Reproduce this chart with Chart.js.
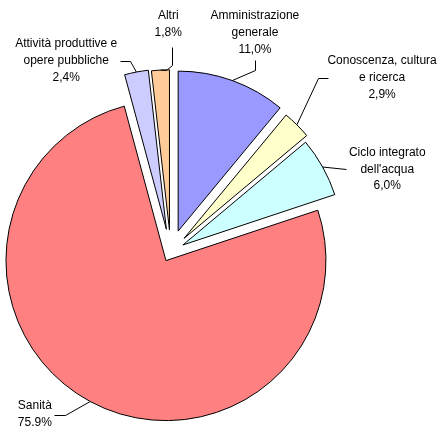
<!DOCTYPE html>
<html>
<head>
<meta charset="utf-8">
<script src="https://cdn.jsdelivr.net/npm/chart.js@4/dist/chart.umd.min.js"></script>
<style>
html,body{margin:0;padding:0;background:#fff;overflow:hidden;}
canvas{display:block;}
</style>
</head>
<body>
<canvas id="c" width="447" height="429"></canvas>
<script>
// ---- data ----
const categories = ['Amministrazione generale', 'Conoscenza, cultura e ricerca', "Ciclo integrato dell'acqua", 'Sanità', 'Attività produttive e opere pubbliche', 'Altri'];
const shares = [11.0, 2.9, 6.0, 75.9, 2.4, 1.8];
const nameLines = [['Amministrazione', 'generale'], ['Conoscenza, cultura', 'e ricerca'], ['Ciclo integrato', "dell'acqua"], ['Sanità'], ['Attività produttive e', 'opere pubbliche'], ['Altri']];
const valueTexts = ['11,0%', '2,9%', '6,0%', '75.9%', '2,4%', '1,8%'];

// ---- style ----
const colors = ['#9999FF', '#FFFFCC', '#CCFFFF', '#FF8080', '#CCCCFF', '#FFCC99'];
const explode = [22, 19, 14, 10, 23, 22];
// label placement relative to the slice's outer mid-point: leader polyline + text block centre
const labelStyle = [
  { leader: [[22.6, -10.5], [22.6, -20.5]], text: [22.6, -48] },
  { leader: [[21.5, -47.1], [30.9, -47.1]], text: [85.2, -47.1] },
  { leader: [[23.6, 2]], text: [64.6, 2.2] },
  { leader: [[-25.4, 13.4], [-36.4, 13.4]], text: [-55.4, 13] },
  { leader: [[-6.9, -11.2], [-16.9, -11.2]], text: [-70.2, -11.2] },
  { leader: [[5.5, -0.5], [11.5, -5], [11.5, -23]], text: [7.8, -46] }
];
const FONT = '12px "Liberation Sans", Arial, sans-serif';
const LINE_H = 16.8;

const explodePlugin = {
  id: 'explode',
  afterDatasetUpdate(chart, args) {
    args.meta.data.forEach((arc, i) => {
      const mid = (arc.startAngle + arc.endAngle) / 2;
      const d = explode[i] || 0;
      arc.x += d * Math.cos(mid);
      arc.y += d * Math.sin(mid);
    });
  }
};

const labelPlugin = {
  id: 'sliceLabels',
  afterDraw(chart) {
    const ctx = chart.ctx;
    const meta = chart.getDatasetMeta(0);
    ctx.save();
    ctx.font = FONT;
    ctx.fillStyle = '#000';
    ctx.strokeStyle = '#000';
    ctx.lineWidth = 1;
    ctx.textAlign = 'center';
    ctx.textBaseline = 'middle';
    meta.data.forEach((arc, i) => {
      const mid = (arc.startAngle + arc.endAngle) / 2;
      const r = arc.outerRadius;
      const mx = arc.x + r * Math.cos(mid);
      const my = arc.y + r * Math.sin(mid);
      const st = labelStyle[i];
      ctx.beginPath();
      ctx.moveTo(mx, my);
      st.leader.forEach(p => ctx.lineTo(Math.round(mx + p[0]) + 0.5, Math.round(my + p[1]) + 0.5));
      ctx.stroke();
      const lines = nameLines[i].concat([valueTexts[i]]);
      const cx = mx + st.text[0];
      const cy = my + st.text[1];
      const top = cy - (lines.length - 1) * LINE_H / 2;
      lines.forEach((t, k) => ctx.fillText(t, cx, top + k * LINE_H));
    });
    ctx.restore();
  }
};

new Chart(document.getElementById('c'), {
  type: 'pie',
  data: {
    labels: categories,
    datasets: [{
      data: shares,
      backgroundColor: colors,
      borderColor: '#000',
      borderWidth: 1,
      borderJoinStyle: 'miter',
      radius: 160
    }]
  },
  options: {
    responsive: false,
    devicePixelRatio: 1,
    animation: false,
    layout: { padding: { left: 0, right: 105.6, top: 74.6, bottom: 0 } },
    plugins: {
      legend: { display: false },
      tooltip: { enabled: false },
      title: { display: false }
    }
  },
  plugins: [explodePlugin, labelPlugin]
});
</script>
</body>
</html>
